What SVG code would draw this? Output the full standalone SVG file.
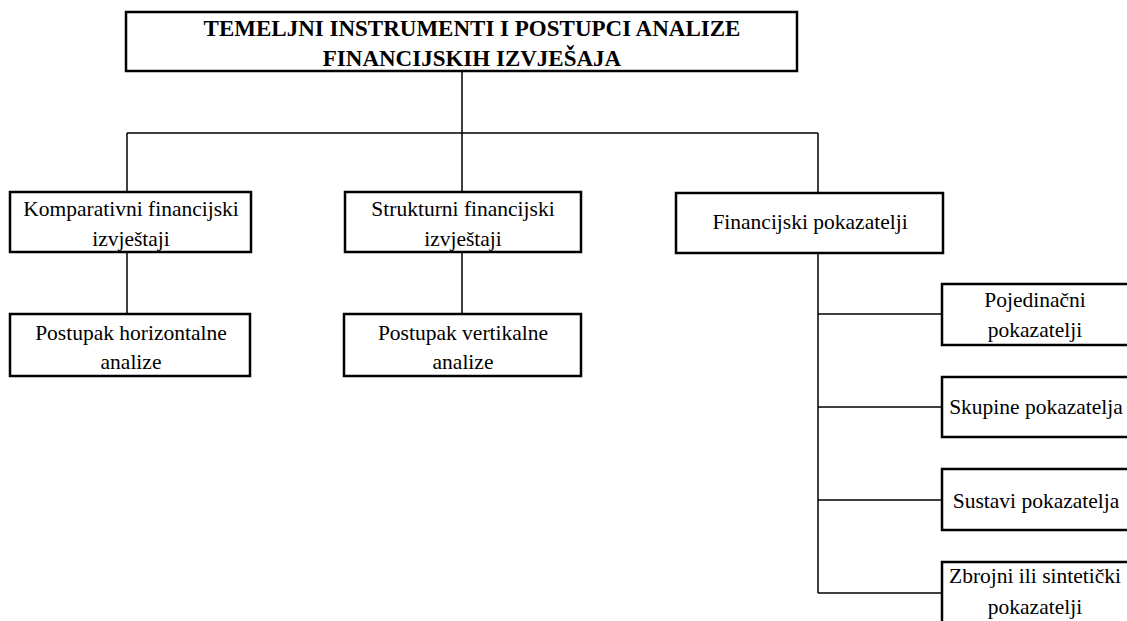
<svg xmlns="http://www.w3.org/2000/svg" width="1127" height="621" viewBox="0 0 1127 621">
<style>
.box{fill:#fff;stroke:#000;stroke-width:2.5}
text{font-family:'Liberation Serif',serif;font-size:21.5px;fill:#000;text-anchor:middle}
.b{font-weight:bold;font-size:23px}
.c{fill:none;stroke:#000;stroke-width:1.5}
</style>
<rect width="1127" height="621" fill="#fff"/>
<g id="connectors">
<path class="c" d="M462 72V133M127 133H818M127 133V192M462 133V192M818 133V193"/>
<path class="c" d="M127 252V314M462 252V314"/>
<path class="c" d="M818 253V593M818 314H942M818 407H942M818 500H942M818 593H942"/>
</g>
<g id="root"><rect class="box" x="126" y="12" width="671" height="59"/>
<text class="b" x="472" y="36">TEMELJNI INSTRUMENTI I POSTUPCI ANALIZE</text>
<text class="b" x="472" y="66">FINANCIJSKIH IZVJEŠAJA</text></g>
<g id="komparativni"><rect class="box" x="10" y="192" width="241" height="60"/>
<text x="131" y="216">Komparativni financijski</text>
<text x="131" y="246">izvještaji</text></g>
<g id="horizontalne"><rect class="box" x="10" y="314" width="240" height="62"/>
<text x="131" y="340">Postupak horizontalne</text>
<text x="131" y="369">analize</text></g>
<g id="strukturni"><rect class="box" x="345" y="192" width="236" height="60"/>
<text x="463" y="216">Strukturni financijski</text>
<text x="463" y="246">izvještaji</text></g>
<g id="vertikalne"><rect class="box" x="344" y="314" width="237" height="62"/>
<text x="463" y="340">Postupak vertikalne</text>
<text x="463" y="369">analize</text></g>
<g id="pokazatelji"><rect class="box" x="676" y="193" width="267" height="60"/>
<text x="810" y="229">Financijski pokazatelji</text></g>
<g id="pojedinacni"><rect class="box" x="942" y="284" width="190" height="61"/>
<text x="1035" y="307">Pojedinačni</text>
<text x="1035" y="337">pokazatelji</text></g>
<g id="skupine"><rect class="box" x="942" y="377" width="190" height="60"/>
<text x="1036" y="414">Skupine pokazatelja</text></g>
<g id="sustavi"><rect class="box" x="942" y="469" width="190" height="61"/>
<text x="1036" y="508">Sustavi pokazatelja</text></g>
<g id="zbrojni"><rect class="box" x="942" y="562" width="190" height="70"/>
<text x="1035" y="583">Zbrojni ili sintetički</text>
<text x="1035" y="614">pokazatelji</text></g>
</svg>
